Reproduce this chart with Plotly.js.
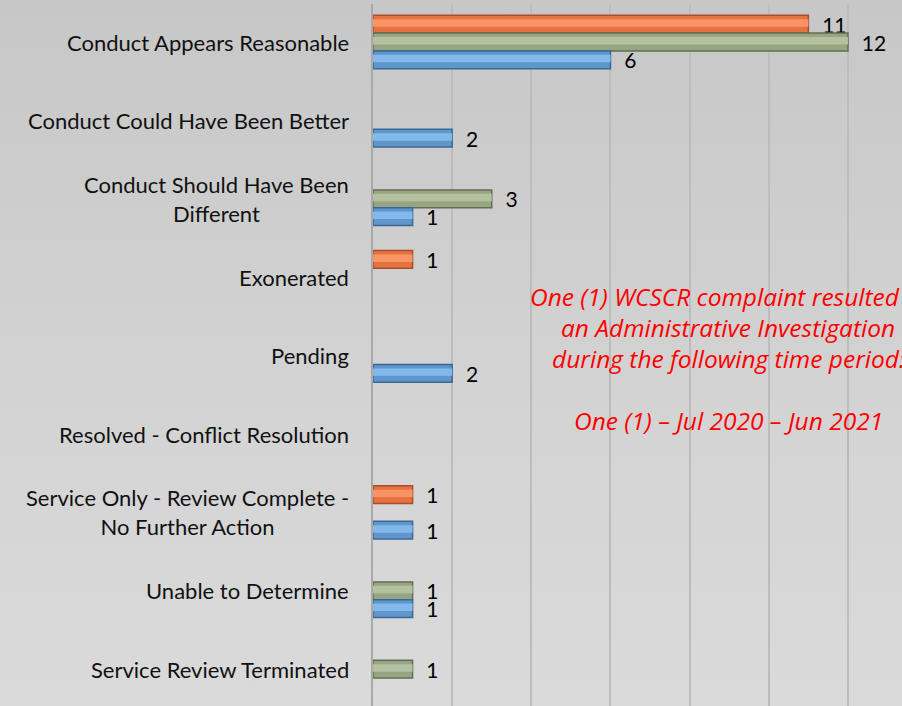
<!DOCTYPE html>
<html>
<head>
<meta charset="utf-8">
<script src="https://cdn.plot.ly/plotly-3.0.1.min.js"></script>
<style>
  html, body { margin: 0; padding: 0; }
  body { width: 902px; height: 706px; background: linear-gradient(to bottom, #c7c7c7 0%, #d3d3d3 55%, #dadada 100%); overflow: hidden; }
  #chart { width: 902px; height: 706px; }
</style>
</head>
<body>
<div id="chart"></div>
<script>
// ---- data ----
const categories = [
  "Conduct Appears Reasonable",
  "Conduct Could Have Been Better",
  "Conduct Should Have Been<br>Different",
  "Exonerated",
  "Pending",
  "Resolved - Conflict Resolution",
  "Service Only - Review Complete -<br>No Further Action",
  "Unable to Determine",
  "Service Review Terminated"
];
const seriesNames = ["Series 1", "Series 2", "Series 3"];
const orangeValues = [11, null, null, 1, null, null, 1, null, null];
const greenValues  = [12, null, 3, null, null, null, null, 1, 1];
const blueValues   = [6, 2, 1, null, 2, null, 1, 1, null];
const noteLines = [
  "One (1) WCSCR complaint resulted in",
  "an Administrative Investigation",
  "during the following time period:",
  "",
  "One (1) \u2013 Jul 2020 \u2013 Jun 2021"
];

// ---- styling ----
const W = 902, H = 706;
const M = { l: 373, r: 0, t: 4, b: 0 };
const pxPerUnit = 39.58;
const pxPerCat = 78.4;
const firstCatPx = 42;
const plotW = W - M.l - M.r, plotH = H - M.t - M.b;
const xMax = plotW / pxPerUnit;
const yTop = -(firstCatPx - M.t) / pxPerCat;
const yBottom = yTop + plotH / pxPerCat;

const fontFam = "Lato, 'Open Sans', sans-serif";
const noteFam = "'Open Sans', Lato, sans-serif";
const styles = [
  { base: "#E6723F", light: "#FA9467", line: "#A94D2B" },
  { base: "#97A582", light: "#B3C1A1", line: "#636D51" },
  { base: "#5F96CC", light: "#82B8EA", line: "#3A6894" }
];
const seriesVals = [orangeValues, greenValues, blueValues];
const groupFrac = 0.68;
const barW = groupFrac / seriesVals.length;

const traces = [];
seriesVals.forEach((vals, i) => {
  const off = -groupFrac / 2 + i * barW;
  traces.push({
    type: "bar",
    orientation: "h",
    name: seriesNames[i],
    y: categories,
    x: vals,
    offset: off,
    width: barW,
    marker: { color: styles[i].base, line: { color: styles[i].line, width: 1.5 } },
    text: vals.map(v => v == null ? "" : "\u00a0\u00a0" + v),
    texttemplate: "%{text}",
    textposition: "outside",
    constraintext: "none",
    cliponaxis: false,
    textfont: { family: fontFam, size: 21, color: "#000000" },
    hoverinfo: "x+y"
  });
  // bevel highlight band (same values, decorative)
  traces.push({
    type: "bar",
    orientation: "h",
    name: seriesNames[i] + " highlight",
    y: categories,
    x: vals,
    offset: off + barW * 0.22,
    width: barW * 0.42,
    marker: { color: styles[i].light, line: { width: 0 } },
    textposition: "none",
    hoverinfo: "skip",
    showlegend: false
  });
});

const annotations = categories.map(c => ({
  xref: "paper", yref: "y",
  x: 0, y: c,
  xanchor: "right", yanchor: "middle",
  xshift: -22,
  align: "center",
  showarrow: false,
  text: c,
  font: { family: fontFam, size: 22, color: "#111111" }
}));

const noteCenterPx = 728, noteTopPx = 296, noteStep = 31;
noteLines.forEach((ln, i) => {
  if (!ln) return;
  annotations.push({
    xref: "paper", yref: "paper",
    x: (noteCenterPx - M.l) / plotW,
    y: 1 - (noteTopPx + i * noteStep - M.t) / plotH,
    xanchor: "center", yanchor: "middle",
    showarrow: false,
    text: "<i>" + ln + "</i>",
    font: { family: noteFam, size: 24.5, color: "#FF0000" }
  });
});

const layout = {
  width: W, height: H,
  margin: M,
  paper_bgcolor: "rgba(0,0,0,0)",
  plot_bgcolor: "rgba(0,0,0,0)",
  barmode: "overlay",
  showlegend: false,
  xaxis: {
    range: [0, xMax],
    tick0: 0, dtick: 2,
    showgrid: true, gridcolor: "#bcbcbc", gridwidth: 2,
    zeroline: false,
    showticklabels: false,
    ticks: ""
  },
  yaxis: {
    type: "category",
    categoryorder: "array",
    categoryarray: categories,
    range: [yBottom, yTop],
    showticklabels: false,
    showgrid: false,
    zeroline: false,
    showline: true, linecolor: "#a9a9a9", linewidth: 2,
    ticks: ""
  },
  annotations: annotations
};

Plotly.newPlot("chart", traces, layout, { displayModeBar: false, staticPlot: true });
</script>
</body>
</html>
